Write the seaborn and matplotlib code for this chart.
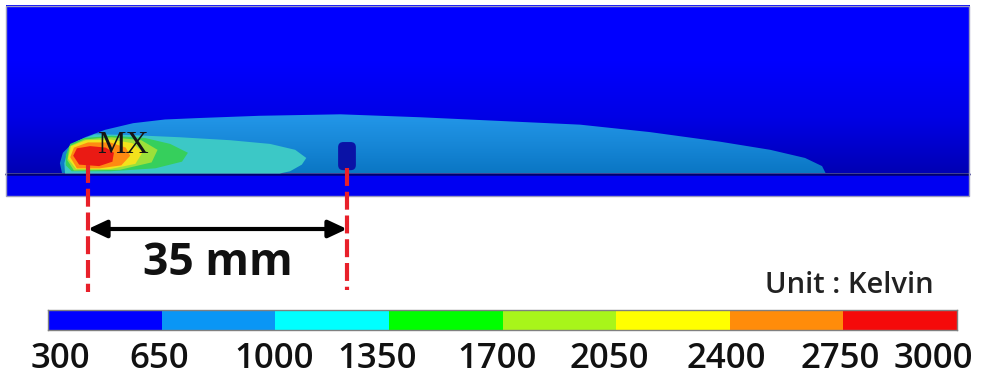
import numpy as np
import matplotlib
matplotlib.use("Agg")
import matplotlib.pyplot as plt
import seaborn as sns
from matplotlib import transforms
from matplotlib.colors import ListedColormap, BoundaryNorm, LinearSegmentedColormap
from matplotlib.patches import Polygon, Rectangle, FancyBboxPatch, FancyArrowPatch

sns.set_style("white")
plt.rcParams["font.family"] = ["Open Sans", "DejaVu Sans"]

# temperature scale (Kelvin) and its band colours
levels = [300, 650, 1000, 1350, 1700, 2050, 2400, 2750, 3000]
level_colors = ["#0000FF", "#0A96F5", "#00FFFF", "#00FF00", "#A8F51A",
                "#FFFF00", "#FF8C0A", "#F50A0A"]

# isotherm outlines, x/y in mm (x = 0 at the hot spot, y = 0 at the plate)
iso650_x = [-3.5, -3.8, -3.4, -2.2, -0.4, 2.3, 6.1, 10.4, 15.1, 23.2, 34.1, 44.9,
            55.7, 66.5, 75.9, 85.4, 92.2, 96.9, 99.2, 99.7]
iso650_y = [0.0, 1.4, 2.8, 4.0, 4.9, 5.9, 6.8, 7.3, 7.5, 7.8, 8.0, 7.6,
            7.1, 6.6, 5.6, 4.3, 3.2, 2.1, 1.0, 0.0]
iso1000_x = [-3.1, -3.2, -2.7, -1.4, 0.9, 5.7, 12.4, 19.2, 24.6, 28.0, 29.5, 28.9, 27.3, 25.9]
iso1000_y = [0.0, 1.4, 3.2, 4.4, 5.3, 5.2, 4.9, 4.5, 4.0, 3.2, 2.1, 1.2, 0.3, 0.0]
iso1350_x = [-3.0, -3.0, -2.4, -0.5, 3.2, 7.7, 11.1, 13.5, 12.7, 9.1, 3.0, -2.2]
iso1350_y = [1.1, 2.5, 4.0, 4.8, 5.1, 4.8, 4.0, 2.8, 1.6, 0.7, 0.3, 0.3]
iso1700_x = [-2.8, -2.5, -0.5, 3.2, 7.2, 9.4, 8.6, 4.3, -1.9]
iso1700_y = [1.8, 3.7, 4.6, 4.9, 4.5, 3.2, 1.5, 0.5, 0.4]
iso2050_x = [-2.7, -2.3, -0.3, 3.0, 6.0, 7.4, 6.4, 3.0, -1.6]
iso2050_y = [2.0, 3.7, 4.5, 4.6, 4.1, 2.9, 1.3, 0.6, 0.6]
iso2400_x = [-2.4, -1.9, 0.0, 3.0, 5.1, 5.7, 4.5, 1.6, -1.5]
iso2400_y = [2.2, 3.5, 4.2, 4.2, 3.5, 2.4, 1.1, 0.7, 0.7]
iso2750_x = [-2.0, -1.5, 0.3, 2.4, 3.5, 3.3, 1.5, -1.2]
iso2750_y = [2.4, 3.4, 3.7, 3.5, 2.8, 1.6, 1.0, 1.2]

source_x = 0.0    # hot spot (MX)
probe_x = 35.0    # measuring point
distance_label = "35 mm"

# shaded colours as they appear in the field plot
field_fill = ["#3CC8C6", "#36CF5C", "#9CE03A", "#F2E21C", "#FF8A12", "#EA1A14"]

W, H = 1007, 384
PX_MM = 7.4
X0, Y0 = 88, 173.5   # pixel position of the origin

fig = plt.figure(figsize=(W / 100, H / 100), dpi=100)
ax = fig.add_axes([0, 0, 1, 1])
ax.axis("off")

fx0, fx1 = (6 - X0) / PX_MM, (969 - X0) / PX_MM
fy0, fy1 = (Y0 - 196) / PX_MM, (Y0 - 6) / PX_MM

grad = np.linspace(0, 1, 256).reshape(-1, 1)
bg_cmap = LinearSegmentedColormap.from_list("bg", ["#0000B4", "#0000E6", "#0000FF", "#0000FF"])
ax.imshow(grad, extent=[fx0, fx1, 0, fy1], origin="lower", cmap=bg_cmap, aspect="auto", zorder=1)
ax.add_patch(Rectangle((fx0, fy0), fx1 - fx0, -fy0, facecolor="#0000F2", edgecolor="none", zorder=1))
ax.plot([fx0, fx1], [0, 0], color="#00006E", lw=1.8, zorder=2)
ax.add_patch(Rectangle((fx0, fy0), fx1 - fx0, fy1 - fy0, facecolor="none",
                       edgecolor="#9A9AC0", lw=1, zorder=9))

# outer plume with vertical shading
plume = Polygon(np.column_stack([iso650_x, iso650_y]), closed=True, facecolor="none", edgecolor="none")
ax.add_patch(plume)
plume_cmap = LinearSegmentedColormap.from_list("pl", ["#0A76C4", "#1888D8", "#2498EA"])
im = ax.imshow(grad, extent=[fx0, 101, 0, 8.2], origin="lower", cmap=plume_cmap, aspect="auto", zorder=3)
im.set_clip_path(plume)

inner = [(iso1000_x, iso1000_y), (iso1350_x, iso1350_y), (iso1700_x, iso1700_y),
         (iso2050_x, iso2050_y), (iso2400_x, iso2400_y), (iso2750_x, iso2750_y)]
for i, (xs, ys) in enumerate(inner):
    ax.fill(xs, ys, color=field_fill[i], lw=0, zorder=4 + i)

# probe
ax.add_patch(FancyBboxPatch((probe_x - 1.2, 0.45), 2.4, 3.8,
                            boxstyle="round,pad=0,rounding_size=0.7",
                            facecolor="#0A12A6", edgecolor="none", zorder=10))

ax.text(1.3, 2.8, "MX", family="Liberation Serif", fontsize=23, color="#151515",
        va="baseline", zorder=12)

# dimension lines
dash = (0, (4.3, 1.4))
ax.plot([source_x, source_x], [1.2, -16.0], color="#E8202A", lw=3, ls=dash, zorder=11)
ax.plot([probe_x, probe_x], [0.7, -15.7], color="#E8202A", lw=3, ls=dash, zorder=11)
ax.add_patch(FancyArrowPatch((source_x, -7.5), (probe_x, -7.5),
                             arrowstyle="<|-|>,head_length=0.75,head_width=0.35",
                             mutation_scale=15, lw=3, color="black",
                             shrinkA=0, shrinkB=0, zorder=12))
ax.text((source_x + probe_x) / 2, -13.7, distance_label, ha="center", va="baseline",
        fontsize=32, weight="bold", color="#111111")

ax.set_xlim(-X0 / PX_MM, (W - X0) / PX_MM)
ax.set_ylim(-(H - Y0) / PX_MM, Y0 / PX_MM)

fig.text(765 / W, 1 - 293 / H, "Unit : Kelvin", fontsize=21, weight="semibold",
         color="#222222", va="baseline")

# colour bar
cax = fig.add_axes([48 / W, 1 - 330 / H, 909 / W, 20 / H])
band_mid = [(a + b) / 2 for a, b in zip(levels[:-1], levels[1:])]
sns.heatmap(np.array([band_mid]), ax=cax, cmap=ListedColormap(level_colors),
            norm=BoundaryNorm(levels, len(level_colors)), cbar=False,
            xticklabels=False, yticklabels=False)
cax.set_xticks(np.arange(len(levels)))
cax.set_xticklabels([str(v) for v in levels], fontsize=25, weight="semibold", color="#111111")
cax.tick_params(axis="x", length=0, pad=9)
for sp in cax.spines.values():
    sp.set_visible(True)
    sp.set_edgecolor("#808080")
    sp.set_linewidth(1)
label_shift_px = [12, -2, -1, -12, -5, -7, -4, -3, -24]
for lab, dx in zip(cax.get_xticklabels(), label_shift_px):
    lab.set_transform(lab.get_transform() + transforms.ScaledTranslation(dx / 100, 0, fig.dpi_scale_trans))

fig.savefig("out.png", dpi=100, facecolor="white")
